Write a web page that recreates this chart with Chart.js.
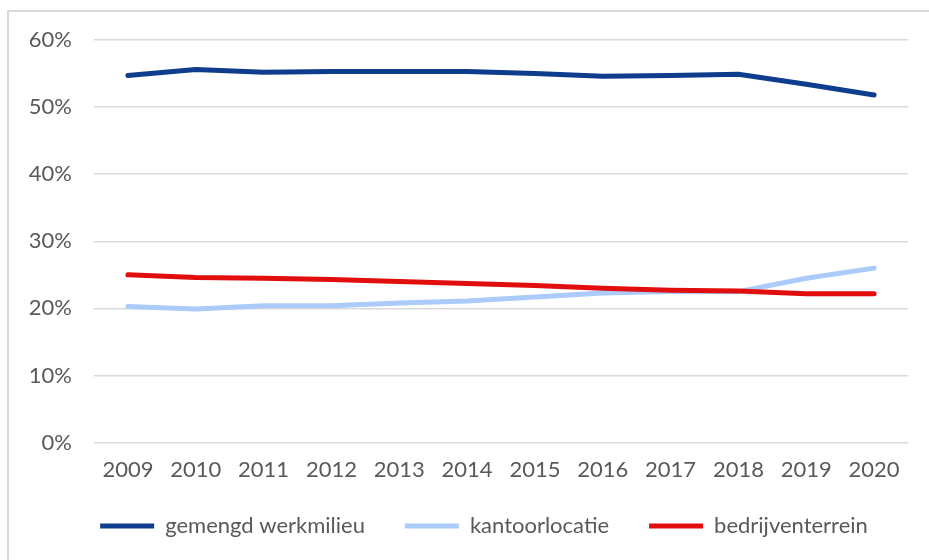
<!DOCTYPE html>
<html>
<head>
<meta charset="utf-8">
<script src="https://cdn.jsdelivr.net/npm/chart.js@4"></script>
<style>
  html, body { margin: 0; padding: 0; background: #fff; overflow: hidden; }
  #frame {
    position: absolute; left: 7px; top: 10px;
    width: 940px; height: 560px;
    border-left: 2px solid #d9d9d9; border-top: 2px solid #d9d9d9;
  }
  #chart { position: absolute; left: 0; top: 0; }
</style>
</head>
<body>
<div id="frame"><canvas id="chart" width="920" height="548"></canvas></div>
<script>
const years = ["2009", "2010", "2011", "2012", "2013", "2014", "2015", "2016", "2017", "2018", "2019", "2020"];
const gemengd = [54.7, 55.6, 55.2, 55.3, 55.3, 55.3, 55.0, 54.6, 54.7, 54.9, 53.4, 51.8];
const kantoor = [20.3, 19.9, 20.4, 20.4, 20.8, 21.1, 21.7, 22.3, 22.5, 22.5, 24.5, 26.0];
const bedrijf = [25.0, 24.6, 24.5, 24.3, 24.0, 23.7, 23.4, 23.0, 22.7, 22.6, 22.2, 22.2];

const textColor = "#595959";
const font = { family: "Lato", size: 22 };

function line(label, data, color, order) {
    return {
        label: label,
        data: data,
        borderColor: color,
        backgroundColor: color,
        borderWidth: 5,
        borderCapStyle: "round",
        borderJoinStyle: "round",
        pointRadius: 0,
        tension: 0,
        order: order
    };
}

// nudge the legend: closer to the axis labels and a bit to the right
const legendShift = {
    id: "legendShift",
    afterLayout(chart) {
        const lg = chart.legend;
        lg.top -= 22;
        lg.bottom -= 22;
        lg.left += 16;
        lg.right += 16;
    }
};

new Chart(document.getElementById("chart"), {
    type: "line",
    data: {
        labels: years,
        datasets: [
            line("gemengd werkmilieu", gemengd, "#0d3d8c", 0),
            line("kantoorlocatie", kantoor, "#abcbfb", 2),
            line("bedrijventerrein", bedrijf, "#e20d0d", 1)
        ]
    },
    options: {
        responsive: false,
        animation: false,
        layout: { padding: { left: 19, right: 21, top: 28, bottom: -9 } },
        scales: {
            x: {
                offset: true,
                grid: { display: false, drawTicks: false },
                border: { display: false },
                ticks: { color: textColor, font: font, padding: 14 },
                afterFit: s => { s.paddingLeft = 0; s.paddingRight = 0; }
            },
            y: {
                min: 0,
                max: 60,
                grid: { color: "#d9d9d9", lineWidth: 1.5, drawTicks: false },
                border: { display: false },
                ticks: {
                    stepSize: 10,
                    color: textColor,
                    font: font,
                    padding: 22,
                    callback: v => v + "%"
                },
                afterFit: s => { s.width = 66; s.paddingTop = 0; s.paddingBottom = 0; }
            }
        },
        plugins: {
            legend: {
                position: "bottom",
                labels: {
                    color: textColor,
                    font: font,
                    usePointStyle: true,
                    pointStyle: "line",
                    pointStyleWidth: 54,
                    padding: 40,
                    sort: (a, b) => a.datasetIndex - b.datasetIndex
                }
            },
            tooltip: { enabled: false }
        }
    },
    plugins: [legendShift]
});
</script>
</body>
</html>
